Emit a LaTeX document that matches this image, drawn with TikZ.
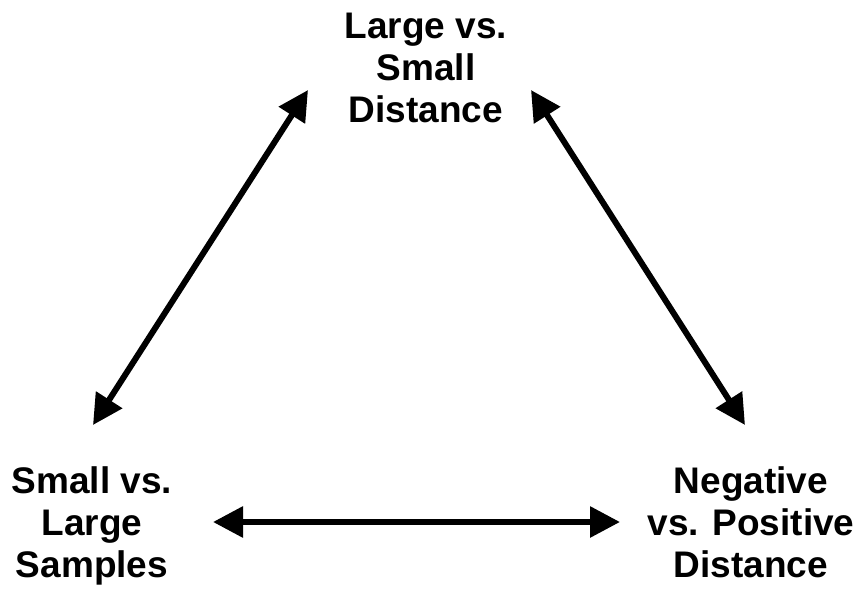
\documentclass[tikz,border=0pt]{standalone}
\usepackage{fontspec}
\setmainfont{Liberation Sans}
\usetikzlibrary{arrows.meta}
\begin{document}
\begin{tikzpicture}[x=1pt,y=-1pt,
  lbl/.style={font=\bfseries\fontsize{37}{42}\selectfont, align=center, inner sep=0pt, anchor=base},
  dbl/.style={line width=6pt, {Triangle[length=30pt,width=30pt]}-{Triangle[length=30pt,width=30pt]}}]
\useasboundingbox (0,0) rectangle (861,593);
\node[lbl] (top) at (426,123) {Large vs.\\Small\\Distance};
\node[lbl] (left) at (92,577) {Small vs.\\Large\\Samples};
\node[lbl] (right) at (751,577) {Negative\\vs. Positive\\Distance};
\coordinate (tl) at (308,90);
\coordinate (lt) at (93,425);
\coordinate (tr) at (531,90);
\coordinate (rt) at (745,425);
\coordinate (lr) at (213,522);
\coordinate (rl) at (620,522);
\draw[dbl] (tl) -- (lt);
\draw[dbl] (tr) -- (rt);
\draw[dbl] (lr) -- (rl);
\end{tikzpicture}
\end{document}
